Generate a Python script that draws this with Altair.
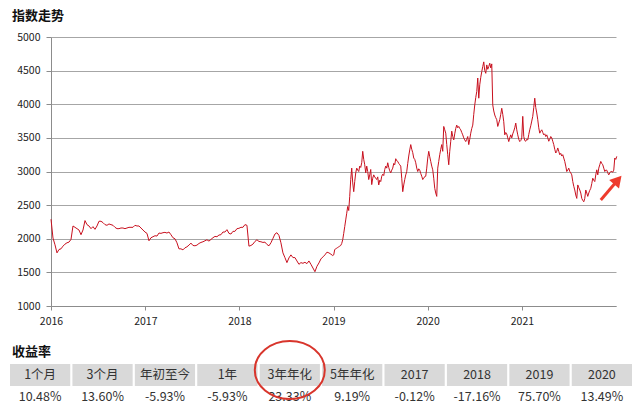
import altair as alt
import pandas as pd

FONT = "Noto Sans CJK SC"

# 2016-2018: roughly weekly readings
early_start, early_end = "2016-01-01", "2018-12-22"
early_values = [
    # 2016
    2290, 2010, 1910, 1790, 1840, 1850, 1890, 1920, 1940, 1950,
    1990, 2190, 2170, 2150, 2130, 2060, 2130, 2270, 2210, 2190,
    2150, 2180, 2140, 2190, 2260, 2260, 2240, 2210, 2200, 2220,
    2210, 2200, 2170, 2150, 2150, 2160, 2160, 2150, 2160, 2170,
    2170, 2170, 2200, 2190, 2190, 2160, 2130, 2100, 2080,
    # 2017
    1970, 2015, 2030, 2045, 2040, 2085, 2080, 2090, 2095, 2085,
    2100, 2060, 2015, 2000, 1940, 1850, 1850, 1835, 1865, 1880,
    1905, 1935, 1900, 1895, 1905, 1930, 1945, 1955, 1970, 1985,
    1965, 1990, 2015, 2035, 2030, 2055, 2060, 2100, 2100, 2135,
    2080, 2070, 2110, 2110, 2150, 2155,
    # 2018
    2170, 2170, 2210, 2200, 1890, 1900, 1920, 1960, 1985, 1960,
    1955, 1945, 1950, 1915, 1895, 1940, 2005, 2070, 2090, 2050,
    1940, 1790, 1720, 1645, 1715, 1760, 1720, 1720, 1670, 1620,
    1645, 1635, 1650, 1630, 1670, 1620, 1565, 1510, 1590, 1640,
    1700, 1730, 1760, 1800, 1790, 1770,
]

# 2019-2021: denser readings
late_start, late_end = "2018-12-29", "2022-01-04"
late_values = [
    1750, 1760, 1840, 1850, 1860, 1870, 1880, 1890, 1900, 1930,
    1985, 2080, 2180, 2280, 2380, 2480, 2420, 2630, 2880, 3050,
    2830, 2700, 2850, 2980, 3050, 3020, 3000, 3080, 3060, 3130,
    3300, 3180, 3100, 2980, 3080, 3000, 2880, 2950, 3030, 2805,
    2900, 2950, 2920, 2900, 2880, 2920, 2800, 2870, 2850, 2930,
    2960, 2940, 3030, 3080, 3050, 3130, 3060, 3010, 2980, 3020,
    3050, 3120, 3100, 3190, 3160, 3150, 3120, 3100, 3080, 2900,
    2700, 2800, 2880, 2950, 3000, 3120, 3230, 3320, 3400, 3330,
    3280, 3200, 3180, 3130, 3050, 3000, 3040, 3020, 2970, 2930,
    2880, 2900, 2925, 2930, 3050, 3200, 3300, 3220, 3150, 3080,
    3025, 2900, 2750, 2680, 2630, 3050, 3150, 3250, 3330, 3400,
    3300, 3670, 3620, 3570, 3400, 3250, 3100, 3300, 3450, 3600,
    3520, 3470, 3560, 3640, 3690, 3650, 3670, 3640, 3620, 3580,
    3545, 3500, 3470, 3445, 3480, 3520, 3400, 3480, 3570, 3640,
    3690, 3850, 3990, 4100, 4190, 4390, 4090, 4290, 4400, 4485,
    4560, 4630, 4500, 4460, 4585, 4520, 4560, 4610, 4540, 4600,
    3990, 3900, 3840, 3800, 3770, 3670, 3720, 3770, 3850, 3940,
    3850, 3740, 3545, 3580, 3560, 3500, 3445, 3500, 3545, 3500,
    3560, 3600, 3650, 3720, 3620, 3545, 3480, 3445, 3460, 3500,
    3820, 3520, 3460, 3450, 3480, 3470, 3550, 3620, 3680, 3750,
    3820, 3950, 4090, 3950, 3870, 3770, 3650, 3570, 3600, 3620,
    3580, 3545, 3560, 3520, 3545, 3500, 3450, 3480, 3520, 3500,
    3450, 3400, 3330, 3275, 3300, 3350, 3300, 3250, 3270, 3230,
    3250, 3200, 3150, 3080, 3000, 3020, 3050, 3000, 2980, 2950,
    2850, 2780, 2725, 2650, 2600, 2800, 2760, 2725, 2680, 2600,
    2570, 2550, 2600, 2725, 2680, 2630, 2680, 2720, 2750, 2820,
    2900, 2870, 2850, 2950, 3025, 2950, 3050, 3100, 3150, 3120,
    3100, 3050, 3000, 3020, 3020, 2980, 2950, 2980, 3000, 3000,
    2990, 3020, 3200, 3180, 3225,
]

x_years = [2016, 2017, 2018, 2019, 2020, 2021]
y_ticks = [1000, 1500, 2000, 2500, 3000, 3500, 4000, 4500, 5000]

periods = ["1个月", "3个月", "年初至今", "1年", "3年年化", "5年年化", "2017", "2018", "2019", "2020"]
returns = [10.48, 13.60, -5.93, -5.93, 23.33, 9.19, -0.12, -17.16, 75.70, 13.49]

arrow_dates = ["2021-11-03", "2022-01-08"]
arrow_values = [2576, 2874]

highlight_period = "3年年化"

# ---------------------------------------------------------------------------
dates = list(pd.date_range(early_start, early_end, periods=len(early_values))) + \
        list(pd.date_range(late_start, late_end, periods=len(late_values)))
line_df = pd.DataFrame({"date": dates, "value": early_values + late_values})
arrow_df = pd.DataFrame({"date": pd.to_datetime(arrow_dates), "value": arrow_values})
table_df = pd.DataFrame({
    "period": periods,
    "label": [f"{r:.2f}%" for r in returns],
    "hrow": ["h"] * len(periods),
    "vrow": ["v"] * len(periods),
})

RED = "#c8101e"
ARROW = "#ee3b2d"
GRID = "#a6a6a6"
AXIS = "#8c8c8c"


def x_sc():
    return alt.Scale(domain=[alt.DateTime(year=2016, month=1, date=1),
                             alt.DateTime(year=2022, month=1, date=1)])


def y_sc():
    return alt.Scale(domain=[1000, 5000], nice=False, zero=False)


line = alt.Chart(line_df).mark_line(color=RED, strokeWidth=1).encode(
    x=alt.X("date:T", scale=x_sc(), title=None,
            axis=alt.Axis(values=[alt.DateTime(year=y, month=1, date=1) for y in x_years],
                          format="%Y", grid=False, domainColor=AXIS, tickColor=AXIS,
                          tickSize=4, labelPadding=6, labelFlush=False,
                          labelFontSize=10.5, labelColor="#222", labelFont=FONT)),
    y=alt.Y("value:Q", scale=y_sc(), title=None,
            axis=alt.Axis(values=y_ticks, format="d", grid=True, gridColor=GRID,
                          domainColor=AXIS, tickColor=AXIS, tickSize=5, labelPadding=6,
                          labelFontSize=10.5, labelColor="#222", labelFont=FONT)),
)

arrow_line = alt.Chart(arrow_df).mark_line(color=ARROW, strokeWidth=3).encode(
    x=alt.X("date:T", scale=x_sc(), axis=None),
    y=alt.Y("value:Q", scale=y_sc(), axis=None),
)
arrow_head = alt.Chart(arrow_df.iloc[[1]]).mark_point(
    shape="triangle-up", filled=True, size=170, angle=41, color=ARROW, opacity=1
).encode(
    x=alt.X("date:T", scale=x_sc(), axis=None),
    y=alt.Y("value:Q", scale=y_sc(), axis=None),
)


def tx():
    return alt.Scale(type="band", domain=periods, range=[-41, 581],
                     paddingInner=0.035, paddingOuter=0)


def ty():
    return alt.Scale(type="band", domain=["h", "v"], range=[327, 371],
                     paddingInner=0, paddingOuter=0)


header_rect = alt.Chart(table_df).mark_rect(color="#d9d9d9").encode(
    x=alt.X("period:N", scale=tx(), axis=None),
    y=alt.Y("hrow:N", scale=ty(), axis=None),
)
header_text = alt.Chart(table_df).mark_text(fontSize=12.5, font=FONT, color="#333",
                                             baseline="middle").encode(
    x=alt.X("period:N", scale=tx(), axis=None),
    y=alt.Y("hrow:N", scale=ty(), axis=None),
    text="period:N",
)
value_text = alt.Chart(table_df).mark_text(fontSize=12.5, font=FONT, color="#333",
                                            baseline="middle").encode(
    x=alt.X("period:N", scale=tx(), axis=None),
    y=alt.Y("vrow:N", scale=ty(), axis=None),
    text="label:N",
)
ellipse = "M -1 0 A 1 0.83 0 1 1 1 0 A 1 0.83 0 1 1 -1 0 Z"
circle = alt.Chart(table_df).transform_filter(
    alt.datum.period == highlight_period
).mark_point(shape=ellipse, size=4900, filled=False, stroke="#d8352c",
             strokeWidth=2, opacity=1).encode(
    x=alt.X("period:N", scale=tx(), axis=None),
    y=alt.Y("hrow:N", scale=ty(), axis=None),
    yOffset=alt.value(6),
)

title1 = alt.Chart(pd.DataFrame({"t": ["指数走势"]})).mark_text(
    align="left", baseline="middle", fontSize=13, fontWeight="bold", font=FONT, color="#111"
).encode(x=alt.value(-39), y=alt.value(-21), text="t:N")
title2 = alt.Chart(pd.DataFrame({"t": ["收益率"]})).mark_text(
    align="left", baseline="middle", fontSize=13, fontWeight="bold", font=FONT, color="#111"
).encode(x=alt.value(-39), y=alt.value(315), text="t:N")

chart = alt.layer(
    line, arrow_line, arrow_head, header_rect, header_text, value_text, circle, title1, title2
).resolve_scale(
    x="independent", y="independent"
).properties(
    width=565, height=269,
    padding={"left": 51, "top": 37, "right": 24, "bottom": 109},
    autosize=alt.AutoSizeParams(type="none"),
    background="white",
).configure_view(stroke=None)

chart.save("out.html", embed_options={"renderer": "svg", "actions": False})
